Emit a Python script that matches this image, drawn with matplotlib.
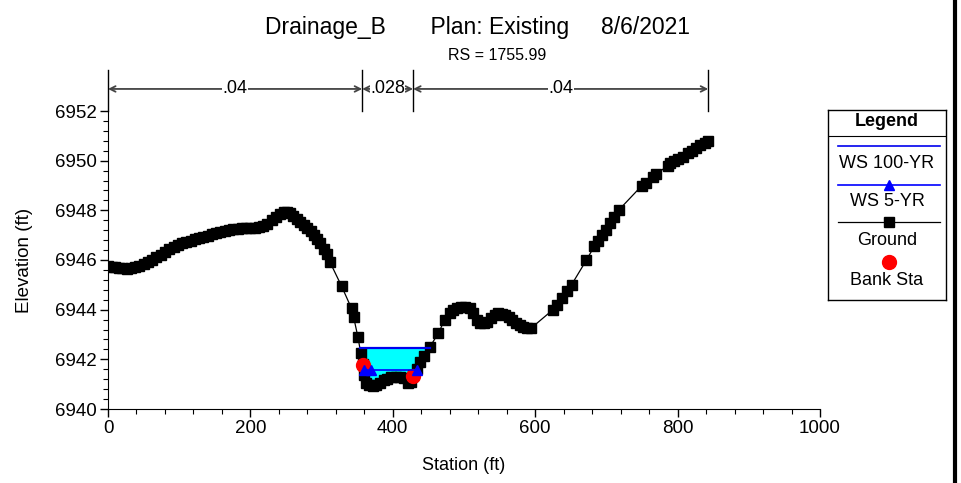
import matplotlib
matplotlib.use("Agg")
from matplotlib import pyplot as plt
from matplotlib.lines import Line2D
from matplotlib.ticker import MultipleLocator
import matplotlib.transforms as mtransforms
import numpy as np

plt.rcParams['font.family'] = ['Liberation Sans', 'DejaVu Sans']

# ground profile (station ft, elevation ft)
station = [0, 5, 10, 15, 20, 26, 32, 38, 44, 50, 56, 62, 68, 74, 80, 86, 92, 98,
           104, 110, 116, 122, 128, 134, 140, 146, 152, 158, 164, 170, 176, 182,
           188, 194, 200, 206, 212, 218, 224, 230, 236, 242, 247, 252, 256, 260,
           265, 270, 275, 280, 285, 290, 294, 298, 303, 307, 312, 328, 342, 345,
           351, 355, 358, 360, 363, 367, 372, 377, 382, 387, 392, 398, 404, 410,
           416, 421, 425, 429, 434, 438, 444, 452, 464, 473, 480, 485, 490, 496,
           502, 508, 513, 518, 523, 528, 533, 538, 543, 548, 553, 558, 563, 568,
           573, 578, 583, 588, 594, 625, 631, 637, 645, 651, 672, 683, 688, 694,
           699, 705, 710, 717, 750, 755, 765, 770, 786, 790, 795, 800, 808, 814,
           820, 826, 832, 838, 843]
elevation = [6945.75, 6945.72, 6945.70, 6945.68, 6945.66, 6945.65, 6945.66, 6945.70,
             6945.76, 6945.84, 6945.92, 6946.02, 6946.12, 6946.22, 6946.32, 6946.44,
             6946.54, 6946.62, 6946.68, 6946.73, 6946.78, 6946.83, 6946.88, 6946.93,
             6946.98, 6947.03, 6947.08, 6947.12, 6947.16, 6947.20, 6947.23, 6947.26,
             6947.28, 6947.29, 6947.30, 6947.30, 6947.31, 6947.36, 6947.46, 6947.60,
             6947.75, 6947.86, 6947.92, 6947.93, 6947.88, 6947.78, 6947.66, 6947.52,
             6947.40, 6947.28, 6947.15, 6947.00, 6946.85, 6946.70, 6946.45, 6946.25,
             6945.90, 6944.95, 6944.05, 6943.70, 6942.90, 6942.25, 6941.80, 6941.35,
             6941.05, 6940.95, 6940.92, 6940.95, 6941.05, 6941.15, 6941.22, 6941.28,
             6941.30, 6941.30, 6941.25, 6941.05, 6941.10, 6941.35, 6941.62, 6941.90,
             6942.15, 6942.50, 6943.05, 6943.60, 6943.85, 6944.00, 6944.08, 6944.10,
             6944.10, 6944.05, 6943.85, 6943.60, 6943.48, 6943.45, 6943.52, 6943.65,
             6943.78, 6943.85, 6943.82, 6943.78, 6943.70, 6943.60, 6943.48, 6943.38,
             6943.30, 6943.25, 6943.25, 6944.00, 6944.20, 6944.45, 6944.75, 6945.00,
             6946.00, 6946.55, 6946.75, 6947.00, 6947.20, 6947.50, 6947.75, 6948.00,
             6949.00, 6949.10, 6949.35, 6949.45, 6949.80, 6949.90, 6950.00, 6950.05,
             6950.15, 6950.30, 6950.40, 6950.50, 6950.62, 6950.72, 6950.80]

# water surfaces
ws100_sta = [354, 452]
ws100_elev = 6942.45
ws5_sta = [359, 370, 434]
ws5_elev = 6941.57

# bank stations
bank_sta = [358, 429]
bank_elev = [6941.78, 6941.33]

# manning's n
n_bounds = [0, 357, 428.5, 843]
n_values = ['.04', '.028', '.04']

FS = 13

fig = plt.figure(figsize=(9.61, 4.83), dpi=100)
ax = fig.add_axes([108/961, 74/483, 712/961, 298/483])

# cyan fill up to WS 100-YR
st = np.array(station, dtype=float)
el = np.array(elevation, dtype=float)
mask = (st >= ws100_sta[0] - 5) & (st <= ws100_sta[1] + 5)
ax.fill_between(st[mask], el[mask], ws100_elev, where=el[mask] < ws100_elev,
                interpolate=True, color='#00ffff', lw=0, zorder=1)

ax.plot(station, elevation, color='black', lw=0.9, marker='s', ms=7,
        mec='black', mfc='black', zorder=3)
ax.plot(bank_sta, bank_elev, ls='none', marker='o', ms=10, color='red', zorder=4)
ax.plot(ws100_sta, [ws100_elev] * 2, color='#0000ee', lw=1.6, zorder=5)
ax.plot(ws5_sta, [ws5_elev] * 3, color='#0000ff', lw=1.2, marker='^', ms=7, zorder=5)

ax.set_xlim(0, 1000)
ax.set_ylim(6940, 6952)
ax.xaxis.set_major_locator(MultipleLocator(200))
ax.xaxis.set_minor_locator(MultipleLocator(40))
ax.yaxis.set_major_locator(MultipleLocator(2))
ax.yaxis.set_minor_locator(MultipleLocator(0.4))
ax.tick_params(which='major', direction='out', length=6, width=1, labelsize=FS + 0.5)
ax.tick_params(which='minor', direction='out', length=3.5, width=0.8)
ax.tick_params(axis='x', pad=2)
ax.tick_params(axis='y', pad=2)
for s in ['top', 'right']:
    ax.spines[s].set_visible(False)
ax.set_xlabel('Station (ft)', fontsize=FS, labelpad=14)
ax.set_ylabel('Elevation (ft)', fontsize=FS + 0.5, labelpad=16)

fig.text(0.497, 0.944, 'Drainage_B       Plan: Existing     8/6/2021',
         ha='center', va='center', fontsize=16.5)
fig.text(0.517, 0.886, 'RS = 1755.99', ha='center', va='center', fontsize=11.5)

# n-value bars and arrows above the plot
trans = mtransforms.blended_transform_factory(ax.transData, ax.transAxes)
for b in n_bounds:
    ax.plot([b, b], [1.0, 1.138], color='black', lw=1, transform=trans, clip_on=False)
for i, n in enumerate(n_values):
    x0, x1 = n_bounds[i], n_bounds[i + 1]
    ax.annotate('', xy=(x0, 1.074), xytext=(x1, 1.074), xycoords=trans, textcoords=trans,
                arrowprops=dict(arrowstyle='<->', color='#444444', lw=1.3,
                                shrinkA=0, shrinkB=0), annotation_clip=False)
    ax.text((x0 + x1) / 2, 1.074, n, transform=trans, ha='center', va='center',
            fontsize=FS, bbox=dict(facecolor='white', edgecolor='none', pad=0.3),
            clip_on=False)

# custom legend box
lg = fig.add_axes([828/961, 183/483, 118/961, 190/483])
lg.set_xlim(0, 1)
lg.set_ylim(0, 1)
lg.set_xticks([])
lg.set_yticks([])
for s in lg.spines.values():
    s.set_linewidth(1)
lg.text(0.5, 0.942, 'Legend', ha='center', va='center', fontsize=FS, fontweight='bold')
lg.plot([0, 1], [0.865, 0.865], color='black', lw=0.8)
lg.plot([0.085, 0.95], [0.81, 0.81], color='#0000ee', lw=1.2)
lg.text(0.5, 0.721, 'WS 100-YR', ha='center', va='center', fontsize=FS)
lg.plot([0.085, 0.95], [0.605, 0.605], color='#0000ff', lw=1.2)
lg.plot([0.517], [0.605], marker='^', ms=7, color='#0000ff')
lg.text(0.5, 0.516, 'WS 5-YR', ha='center', va='center', fontsize=FS)
lg.plot([0.085, 0.95], [0.411, 0.411], color='black', lw=0.9)
lg.plot([0.517], [0.411], marker='s', ms=7, color='black')
lg.text(0.5, 0.311, 'Ground', ha='center', va='center', fontsize=FS)
lg.plot([0.517], [0.2], marker='o', ms=10, color='red')
lg.text(0.5, 0.105, 'Bank Sta', ha='center', va='center', fontsize=FS)

fig.add_artist(Line2D([0.9935, 0.9935], [0, 1], color='black', lw=3,
                      transform=fig.transFigure))

fig.savefig('out.png', dpi=100)
